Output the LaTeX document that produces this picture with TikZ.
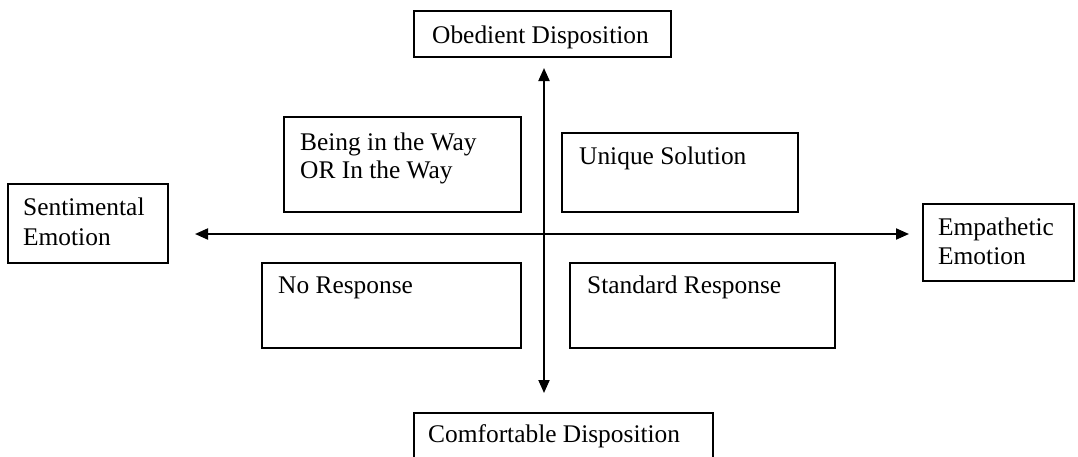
\documentclass[tikz,border=0pt]{standalone}
\usepackage{fontspec}
\setmainfont{Liberation Serif}
\usetikzlibrary{arrows.meta}
\begin{document}
\begin{tikzpicture}[x=1pt,y=-1pt,
  box/.style={draw=black, line width=1.6pt, inner sep=0pt, anchor=north west},
  lbl/.style={inner sep=0pt, anchor=base west, font=\fontsize{25.4}{30}\selectfont},
  axis/.style={line width=2pt, {Triangle[length=13pt,width=11pt]}-{Triangle[length=13pt,width=11pt]}}]
\useasboundingbox (0,0) rectangle (1078,456);

% pole boxes
\node[box, minimum width=257pt, minimum height=46pt] (obed) at (413,10) {};
\node[lbl] (obedT) at (432,43) {Obedient Disposition};

\node[box, minimum width=299pt, minimum height=60pt] (comf) at (413,412) {};
\node[lbl] (comfT) at (428,442) {Comfortable Disposition};

\node[box, minimum width=160pt, minimum height=79pt] (sent) at (7,183) {};
\node[lbl] (sentT1) at (23,215) {Sentimental};
\node[lbl] (sentT2) at (23,245) {Emotion};

\node[box, minimum width=151pt, minimum height=77pt] (emp) at (922,203) {};
\node[lbl] (empT1) at (938,235) {Empathetic};
\node[lbl] (empT2) at (938,264) {Emotion};

% quadrant boxes
\node[box, minimum width=237pt, minimum height=95pt] (way) at (283,116) {};
\node[lbl] (wayT1) at (300,150) {Being in the Way};
\node[lbl] (wayT2) at (300,178) {OR In the Way};

\node[box, minimum width=236pt, minimum height=79pt] (uniq) at (561,132) {};
\node[lbl] (uniqT) at (579,164) {Unique Solution};

\node[box, minimum width=259pt, minimum height=85pt] (none) at (261,262) {};
\node[lbl] (noneT) at (278,293) {No Response};

\node[box, minimum width=265pt, minimum height=85pt] (std) at (569,262) {};
\node[lbl] (stdT) at (587,293) {Standard Response};

% axes
\coordinate (up) at (544,68);
\coordinate (down) at (544,393);
\coordinate (left) at (195,234);
\coordinate (right) at (909,234);
\draw[axis] (up) -- (down);
\draw[axis] (left) -- (right);
\end{tikzpicture}
\end{document}
